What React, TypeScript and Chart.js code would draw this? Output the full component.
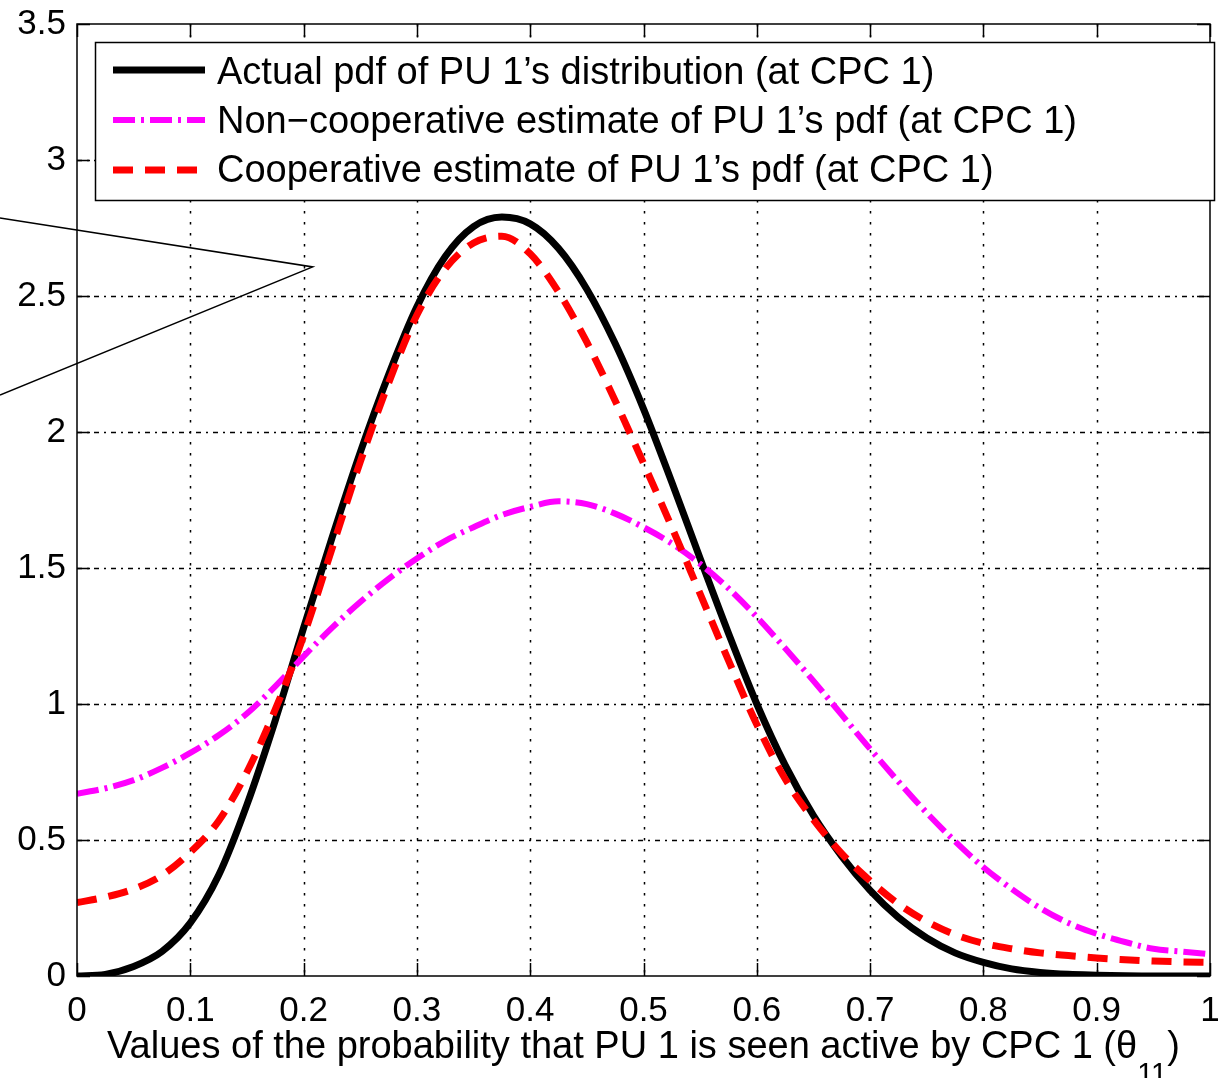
import React, { useEffect, useRef } from "react";
import { Chart, registerables } from "chart.js";

Chart.register(...registerables);

// ---------------- data ----------------
const xValues = [
  0, 0.025, 0.05, 0.075, 0.1, 0.125, 0.15, 0.175, 0.2, 0.225,
  0.25, 0.275, 0.3, 0.325, 0.35, 0.375, 0.4, 0.425, 0.45, 0.475,
  0.5, 0.525, 0.55, 0.575, 0.6, 0.625, 0.65, 0.675, 0.7, 0.725,
  0.75, 0.775, 0.8, 0.825, 0.85, 0.875, 0.9, 0.925, 0.95, 0.975, 1,
];

const actualPdf = [
  0, 0.006, 0.035, 0.09, 0.195, 0.37, 0.63, 0.94, 1.28, 1.61,
  1.925, 2.21, 2.46, 2.645, 2.755, 2.79, 2.765, 2.675, 2.525, 2.325,
  2.085, 1.815, 1.535, 1.26, 1.0, 0.775, 0.59, 0.44, 0.315, 0.215,
  0.14, 0.085, 0.05, 0.026, 0.013, 0.006, 0.003, 0.001, 0, 0, 0,
];

const nonCoopPdf = [
  0.67, 0.69, 0.72, 0.765, 0.82, 0.885, 0.965, 1.065, 1.175, 1.28,
  1.375, 1.46, 1.535, 1.6, 1.65, 1.695, 1.725, 1.745, 1.735, 1.7,
  1.65, 1.59, 1.515, 1.425, 1.32, 1.205, 1.085, 0.96, 0.835, 0.715,
  0.6, 0.495, 0.4, 0.32, 0.25, 0.195, 0.155, 0.125, 0.1, 0.09, 0.08,
];

const coopPdf = [
  0.27, 0.29, 0.32, 0.37, 0.455, 0.57, 0.75, 0.98, 1.25, 1.57,
  1.89, 2.18, 2.43, 2.6, 2.695, 2.72, 2.655, 2.515, 2.33, 2.115,
  1.885, 1.65, 1.405, 1.16, 0.925, 0.725, 0.575, 0.45, 0.35, 0.265,
  0.2, 0.152, 0.12, 0.1, 0.085, 0.075, 0.066, 0.06, 0.055, 0.052, 0.05,
];

const xTicks = [0, 0.1, 0.2, 0.3, 0.4, 0.5, 0.6, 0.7, 0.8, 0.9, 1];
const yTicks = [0, 0.5, 1, 1.5, 2, 2.5, 3, 3.5];

const legendLabels = [
  "Actual pdf of PU 1\u2019s distribution (at CPC 1)",
  "Non\u2212cooperative estimate of PU 1\u2019s pdf (at CPC 1)",
  "Cooperative estimate of PU 1\u2019s pdf (at CPC 1)",
];

const xTitleMain = "Values of the probability that PU 1 is seen active by CPC 1 (\u03b8";
const xTitleSub = "11";
const xTitleEnd = ")";

// annotation pointer lines (data coordinates)
const annotX = [-0.068, 0.208, -0.068];
const annotY = [2.787, 2.607, 2.136];

const FONT = "'Liberation Sans', Arial, Helvetica, sans-serif";

const styles = [
  { color: "#000000", width: 7, dash: [] as number[] },
  { color: "#ff00ff", width: 6, dash: [22, 6, 3, 6] },
  { color: "#ff0000", width: 7, dash: [20, 12] },
];

const matlabPlugin = {
  id: "matlabFrame",
  beforeDatasetsDraw(chart: any) {
    const { ctx, chartArea: a, scales } = chart;
    const x = scales.x;
    const y = scales.y;
    ctx.save();
    ctx.strokeStyle = "#000";
    ctx.lineWidth = 1.5;
    ctx.setLineDash([2.5, 8.5]);
    for (const t of xTicks) {
      if (t === 0 || t === 1) continue;
      const px = Math.round(x.getPixelForValue(t)) + 0.5;
      ctx.beginPath();
      ctx.moveTo(px, a.top);
      ctx.lineTo(px, a.bottom);
      ctx.stroke();
    }
    ctx.setLineDash([5, 5, 2, 5]);
    for (const t of yTicks) {
      if (t === 0 || t === 3.5) continue;
      const py = Math.round(y.getPixelForValue(t)) + 0.5;
      ctx.beginPath();
      ctx.moveTo(a.left, py);
      ctx.lineTo(a.right, py);
      ctx.stroke();
    }
    ctx.restore();
  },
  afterDatasetsDraw(chart: any) {
    const { ctx, chartArea: a, scales } = chart;
    const x = scales.x;
    const y = scales.y;
    ctx.save();
    // frame
    ctx.setLineDash([]);
    ctx.strokeStyle = "#000";
    ctx.lineWidth = 1.5;
    ctx.strokeRect(a.left, a.top, a.right - a.left, a.bottom - a.top);
    // inward ticks
    const tl = 13;
    ctx.beginPath();
    for (const t of xTicks) {
      const px = Math.round(x.getPixelForValue(t)) + 0.5;
      ctx.moveTo(px, a.bottom);
      ctx.lineTo(px, a.bottom - tl);
      ctx.moveTo(px, a.top);
      ctx.lineTo(px, a.top + tl);
    }
    for (const t of yTicks) {
      const py = Math.round(y.getPixelForValue(t)) + 0.5;
      ctx.moveTo(a.left, py);
      ctx.lineTo(a.left + tl, py);
      ctx.moveTo(a.right, py);
      ctx.lineTo(a.right - tl, py);
    }
    ctx.stroke();

    // annotation lines
    ctx.lineWidth = 1.5;
    ctx.beginPath();
    annotX.forEach((v, i) => {
      const px = x.getPixelForValue(v);
      const py = y.getPixelForValue(annotY[i]);
      if (i === 0) ctx.moveTo(px, py);
      else ctx.lineTo(px, py);
    });
    ctx.stroke();

    // legend
    const lx = 95, ly = 42, lw = 1214 - 95, lh = 200 - 42;
    ctx.fillStyle = "#fff";
    ctx.fillRect(lx, ly, lw, lh);
    ctx.lineWidth = 1.5;
    ctx.strokeStyle = "#000";
    ctx.strokeRect(lx + 0.5, ly + 0.5, lw, lh);
    const sampleY = [70, 120, 170];
    const baseY = [84, 133, 182];
    legendLabels.forEach((lab, i) => {
      const s = styles[i];
      ctx.save();
      ctx.strokeStyle = s.color;
      ctx.lineWidth = s.width;
      ctx.lineCap = "butt";
      ctx.setLineDash(s.dash);
      ctx.beginPath();
      ctx.moveTo(113, sampleY[i]);
      ctx.lineTo(205, sampleY[i]);
      ctx.stroke();
      ctx.restore();
      ctx.fillStyle = "#000";
      ctx.font = `38px ${FONT}`;
      ctx.textBaseline = "alphabetic";
      ctx.textAlign = "left";
      ctx.fillText(lab, 217, baseY[i]);
    });

    // x title with subscript
    ctx.fillStyle = "#000";
    ctx.textBaseline = "alphabetic";
    ctx.textAlign = "left";
    const mainFont = `38px ${FONT}`;
    const subFont = `29px ${FONT}`;
    ctx.font = mainFont;
    const w1 = ctx.measureText(xTitleMain).width;
    const w3 = ctx.measureText(xTitleEnd).width;
    ctx.font = subFont;
    const w2 = ctx.measureText(xTitleSub).width;
    const total = w1 + w2 + w3;
    const cx = (a.left + a.right) / 2;
    const sx = cx - total / 2;
    ctx.font = mainFont;
    ctx.fillText(xTitleMain, sx, 1058);
    ctx.font = subFont;
    ctx.fillText(xTitleSub, sx + w1, 1083);
    ctx.font = mainFont;
    ctx.fillText(xTitleEnd, sx + w1 + w2, 1058);
    ctx.restore();
  },
};

export default function App() {
  const ref = useRef<HTMLCanvasElement | null>(null);

  useEffect(() => {
    document.body.style.margin = "0";
    if (!ref.current) return;
    Chart.defaults.font.family = FONT;
    const mk = (vals: number[]) => xValues.map((xv, i) => ({ x: xv, y: vals[i] }));
    const chart = new Chart(ref.current, {
      type: "line",
      data: {
        datasets: [
          {
            label: legendLabels[2],
            data: mk(coopPdf),
            borderColor: styles[2].color,
            borderWidth: styles[2].width,
            borderDash: styles[2].dash,
            borderCapStyle: "butt",
            pointRadius: 0,
            fill: false,
            cubicInterpolationMode: "monotone",
          },
          {
            label: legendLabels[1],
            data: mk(nonCoopPdf),
            borderColor: styles[1].color,
            borderWidth: styles[1].width,
            borderDash: styles[1].dash,
            borderCapStyle: "butt",
            pointRadius: 0,
            fill: false,
            cubicInterpolationMode: "monotone",
          },
          {
            label: legendLabels[0],
            data: mk(actualPdf),
            borderColor: styles[0].color,
            borderWidth: styles[0].width,
            pointRadius: 0,
            fill: false,
            cubicInterpolationMode: "monotone",
          },
        ],
      },
      options: {
        animation: false,
        responsive: true,
        maintainAspectRatio: false,
        layout: { padding: { top: 24, right: 10, left: 0, bottom: 0 } },
        plugins: {
          legend: { display: false },
          tooltip: { enabled: false },
          title: { display: false },
        },
        scales: {
          x: {
            type: "linear",
            min: 0,
            max: 1,
            afterBuildTicks: (s: any) => {
              s.ticks = xTicks.map((v) => ({ value: v }));
            },
            afterFit: (s: any) => {
              s.height = 102;
              s.paddingLeft = 0;
              s.paddingRight = 0;
            },
            ticks: {
              font: { size: 35, family: FONT },
              color: "#000",
              padding: 14,
              maxRotation: 0,
              autoSkip: false,
              callback: (v: any) => String(v),
            },
            grid: { display: false, drawTicks: false },
            border: { display: false },
          },
          y: {
            type: "linear",
            min: 0,
            max: 3.5,
            afterBuildTicks: (s: any) => {
              s.ticks = yTicks.map((v) => ({ value: v }));
            },
            afterFit: (s: any) => {
              s.width = 77;
              s.paddingTop = 0;
              s.paddingBottom = 0;
            },
            ticks: {
              font: { size: 35, family: FONT },
              color: "#000",
              padding: 11,
              autoSkip: false,
              callback: (v: any) => String(v),
            },
            grid: { display: false, drawTicks: false },
            border: { display: false },
          },
        },
      },
      plugins: [matlabPlugin],
    });
    return () => chart.destroy();
  }, []);

  return (
    <div style={{ width: 1220, height: 1078, position: "relative", background: "#fff" }}>
      <canvas ref={ref} />
    </div>
  );
}
